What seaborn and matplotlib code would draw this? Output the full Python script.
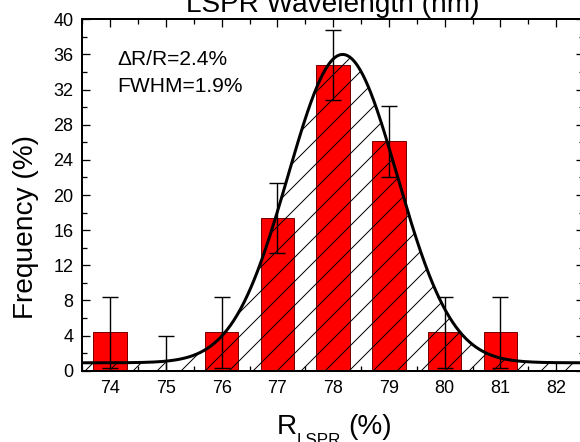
import numpy as np
import pandas as pd
import matplotlib
matplotlib.use("Agg")
import matplotlib.pyplot as plt
from matplotlib.ticker import MultipleLocator
import seaborn as sns

# ---- data ----
r_lspr = [74, 75, 76, 77, 78, 79, 80, 81]
frequency = [4.35, 0.0, 4.35, 17.39, 34.78, 26.09, 4.35, 4.35]
freq_err = [4.0, 4.0, 4.0, 4.0, 4.0, 4.0, 4.0, 4.0]
x_ticks = [74, 75, 76, 77, 78, 79, 80, 81, 82]
y_ticks = [0, 4, 8, 12, 16, 20, 24, 28, 32, 36, 40]
# Gaussian fit parameters (baseline, centre, sigma, amplitude)
fit_y0 = 0.9
fit_xc = 78.17
fit_sigma = 0.98
fit_amp = 35.1
title_text = "LSPR Wavelength (nm)"
annot_lines = ["\u0394R/R=2.4%", "FWHM=1.9%"]

sns.set_style("ticks")
plt.rcParams["font.family"] = ["Liberation Sans", "DejaVu Sans"]
plt.rcParams["hatch.linewidth"] = 1.0

W, H = 580, 442
fig = plt.figure(figsize=(W / 72, H / 72), dpi=72)
fig.patch.set_facecolor("white")
left, right, top, bottom = 82.3, 584.0, 19.3, 370.7
ax = fig.add_axes([left / W, 1 - bottom / H, (right - left) / W, (bottom - top) / H])
ax.set_facecolor("white")

df = pd.DataFrame({"R": r_lspr, "Freq": frequency})
sns.barplot(data=df, x="R", y="Freq", native_scale=True, width=0.6,
            color="#ff0000", saturation=1, edgecolor="#7a0000", linewidth=1.0,
            errorbar=None, ax=ax, zorder=2)

# fit curve and hatched area
xs = np.linspace(73.5, 82.5, 600)
ys = fit_y0 + fit_amp * np.exp(-(xs - fit_xc) ** 2 / (2 * fit_sigma ** 2))
ax.fill_between(xs, 0, ys, facecolor="none", edgecolor="black", hatch="/",
                linewidth=0, zorder=3)

ax.errorbar(r_lspr, frequency, yerr=freq_err, fmt="none", ecolor="black",
            elinewidth=1.4, capsize=8, capthick=1.4, zorder=4)

sns.lineplot(x=xs, y=ys, color="black", linewidth=3, ax=ax, zorder=5)

ax.set_xlim(73.5, 82.5)
ax.set_ylim(0, 40)
ax.set_xticks(x_ticks)
ax.set_xticklabels([str(t) for t in x_ticks])
ax.set_yticks(y_ticks)
ax.set_yticklabels([str(t) for t in y_ticks])
ax.xaxis.set_minor_locator(MultipleLocator(0.5))
ax.yaxis.set_minor_locator(MultipleLocator(2))
ax.tick_params(which="both", direction="in", top=True, right=True,
               color="black", width=1.3)
ax.tick_params(which="major", length=8, labelsize=18, labelcolor="black")
ax.tick_params(which="minor", length=5)
ax.tick_params(axis="x", which="major", pad=9)
ax.tick_params(axis="y", which="major", pad=9)
for s in ax.spines.values():
    s.set_visible(True)
    s.set_linewidth(2)
    s.set_color("black")
ax.set_xlabel("")
ax.set_ylabel("")

ax.set_title(title_text, fontsize=28, pad=7, color="black")

# x-axis label: "R" + lowered subscript "LSPR" + " (%)"
fig.text(277 / W, 1 - 434 / H, "R", fontsize=28, ha="left", va="baseline",
         color="black")
fig.text(297 / W, 1 - 445 / H, "LSPR", fontsize=17, ha="left", va="baseline",
         color="black")
fig.text(348 / W, 1 - 434 / H, "(%)", fontsize=28, ha="left", va="baseline",
         color="black")

fig.text(26 / W, 1 - 227 / H, "Frequency (%)", fontsize=28, rotation=90,
         ha="center", va="center", color="black")
fig.text(117 / W, 1 - 65 / H, annot_lines[0], fontsize=21, ha="left",
         va="baseline", color="black")
fig.text(117 / W, 1 - 91.7 / H, annot_lines[1], fontsize=21, ha="left",
         va="baseline", color="black")

fig.savefig("out.png", dpi=72, facecolor="white")
